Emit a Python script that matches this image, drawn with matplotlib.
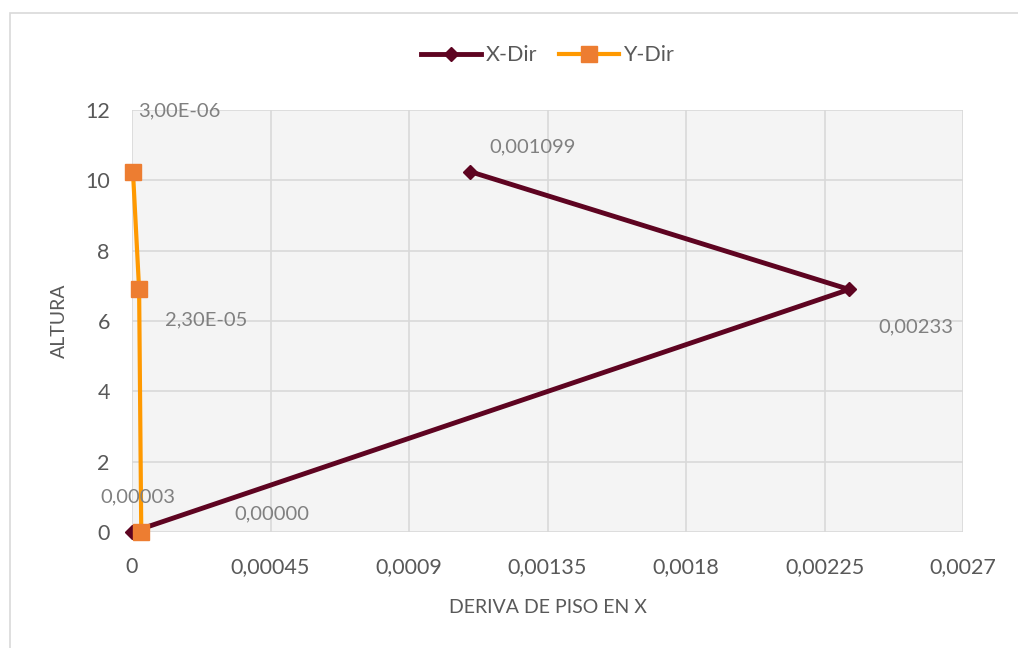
import matplotlib.pyplot as plt
from matplotlib.patches import Rectangle

plt.rcParams['font.family'] = ['Lato', 'DejaVu Sans']

# data
altura = [0, 6.9, 10.25]
x_dir = [0.0, 0.00233, 0.001099]
y_dir = [0.00003, 0.000023, 0.000003]
x_labels = ['0,00000', '0,00233', '0,001099']
y_labels = ['0,00003', '2,30E-05', '3,00E-06']
x_ticks = [0, 0.00045, 0.0009, 0.00135, 0.0018, 0.00225, 0.0027]
x_ticklabels = ['0', '0,00045', '0,0009', '0,00135', '0,0018', '0,00225', '0,0027']
y_ticks = [0, 2, 4, 6, 8, 10, 12]

fig = plt.figure(figsize=(10.18, 6.48), dpi=100)
fig.patches.append(Rectangle((0.01, -0.01), 1.2, 0.99, transform=fig.transFigure,
                             fill=False, edgecolor='#d9d9d9', linewidth=1.2))
ax = fig.add_axes([0.1297, 0.179, 0.8163, 0.651])
ax.set_facecolor('#f4f4f4')

ax.plot(x_dir, altura, color='#5e0421', linewidth=3.5, marker='D', markersize=7,
        label='X-Dir', zorder=3, clip_on=False)
ax.plot(y_dir, altura, color='#ff9900', linewidth=3, marker='s', markersize=12,
        markerfacecolor='#ed7d31', markeredgecolor='#ed7d31', label='Y-Dir', zorder=4,
        clip_on=False)

# data labels (excel style, offsets in pixels)
x_off = [(140, 18), (67, -37), (62, 25)]
y_off = [(-3, 35), (67, -30), (46, 61)]
for xv, yv, t, off in zip(x_dir, altura, x_labels, x_off):
    ax.annotate(t, (xv, yv), xytext=off, textcoords='offset pixels', ha='center',
                va='center', fontsize=14.5, color='#808080', zorder=5)
for xv, yv, t, off in zip(y_dir, altura, y_labels, y_off):
    ax.annotate(t, (xv, yv), xytext=off, textcoords='offset pixels', ha='center',
                va='center', fontsize=14.5, color='#808080', zorder=5)

ax.set_xlim(0, 0.0027)
ax.set_ylim(0, 12)
ax.set_xticks(x_ticks)
ax.set_xticklabels(x_ticklabels)
ax.set_yticks(y_ticks)
ax.tick_params(length=0, labelsize=15.5, labelcolor='#595959')
ax.tick_params(axis='x', pad=18)
ax.tick_params(axis='y', pad=16)
ax.grid(True, color='#d9d9d9', linewidth=1.2)
ax.set_axisbelow(True)
for s in ax.spines.values():
    s.set_visible(False)

ax.set_xlabel('DERIVA DE PISO EN X', fontsize=14, color='#595959', labelpad=16)
ax.set_ylabel('ALTURA', fontsize=14, color='#595959', labelpad=12)

ax.legend(loc='upper center', bbox_to_anchor=(0.5, 1.2), ncol=2, frameon=False,
          fontsize=15.5, labelcolor='#595959', handlelength=2.8, columnspacing=1.0,
          handletextpad=0.2)

fig.savefig('out.png', dpi=100)
